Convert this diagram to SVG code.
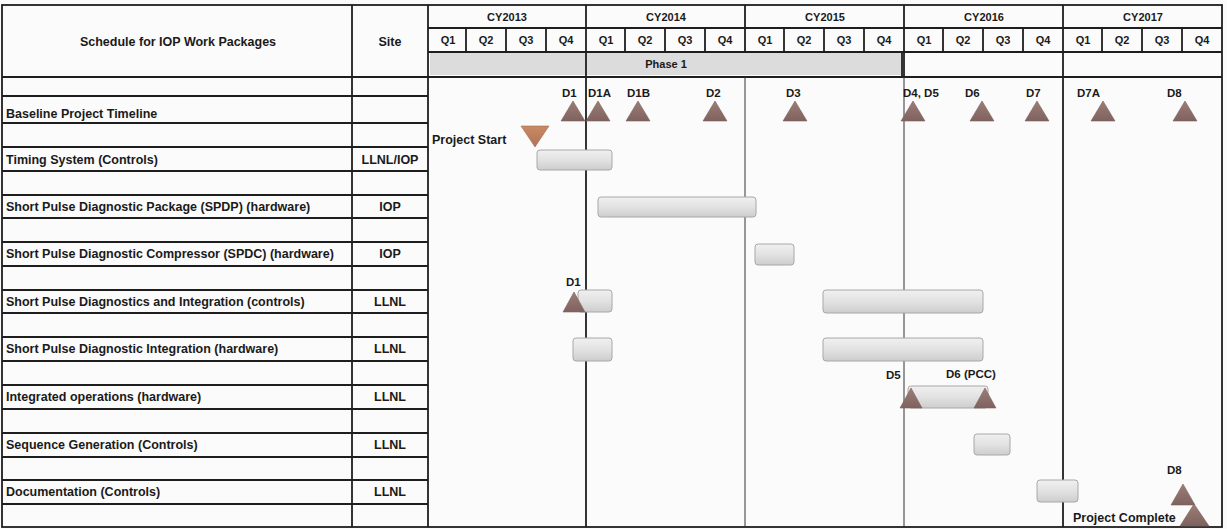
<svg xmlns="http://www.w3.org/2000/svg" width="1227" height="529" viewBox="0 0 1227 529">
<defs>
<style>
text{font-family:"Liberation Sans",Arial,sans-serif;font-weight:bold;font-size:11px;fill:#1a1a1a}
.c{text-anchor:middle}
.lb{font-size:12.5px}
.ml{font-size:11.5px}
.g{stroke:#1e1e1e;stroke-width:1.8;fill:none}
.t{stroke:#333;stroke-width:1;fill:none}
.bar{fill:url(#bg);stroke:#a8a8a8;stroke-width:1}
.ms{fill:url(#mg);stroke:#7d6360;stroke-width:0.6}
</style>
<linearGradient id="bg" x1="0" y1="0" x2="0" y2="1">
<stop offset="0" stop-color="#f0f0f0"/><stop offset="0.5" stop-color="#e2e2e2"/><stop offset="1" stop-color="#cdcdcd"/>
</linearGradient>
<linearGradient id="mg" x1="0" y1="0" x2="0" y2="1">
<stop offset="0" stop-color="#9c7d77"/><stop offset="1" stop-color="#7f625e"/>
</linearGradient>
<linearGradient id="og" x1="0" y1="0" x2="0" y2="1">
<stop offset="0" stop-color="#c98a63"/><stop offset="1" stop-color="#b0735a"/>
</linearGradient>
</defs>
<rect width="1227" height="529" fill="#fbfbfb"/>

<g id="grid">
<rect x="430" y="52" width="472" height="23" fill="#dcdcdc"/>
<rect x="2" y="5" width="1220" height="522" class="g"/>
<line x1="352" y1="5" x2="352" y2="527" class="g"/>
<line x1="428" y1="5" x2="428" y2="527" class="g"/>
<line x1="428" y1="28" x2="1222" y2="28" class="g"/>
<line x1="428" y1="52" x2="1222" y2="52" class="g"/>
<line x1="2" y1="77" x2="1222" y2="77" class="g"/>
<line x1="586" y1="5" x2="586" y2="527" class="g"/>
<line x1="745" y1="5" x2="745" y2="52" class="g"/>
<line x1="745" y1="77" x2="745" y2="527" class="t"/>
<line x1="904" y1="5" x2="904" y2="77" class="g"/>
<line x1="904" y1="77" x2="904" y2="527" class="t"/>
<line x1="1063" y1="5" x2="1063" y2="527" class="g"/>
<g class="g">
<line x1="466" y1="28" x2="466" y2="52"/><line x1="506" y1="28" x2="506" y2="52"/><line x1="546" y1="28" x2="546" y2="52"/>
<line x1="625" y1="28" x2="625" y2="52"/><line x1="665" y1="28" x2="665" y2="52"/><line x1="705" y1="28" x2="705" y2="52"/>
<line x1="784" y1="28" x2="784" y2="52"/><line x1="824" y1="28" x2="824" y2="52"/><line x1="864" y1="28" x2="864" y2="52"/>
<line x1="943" y1="28" x2="943" y2="52"/><line x1="983" y1="28" x2="983" y2="52"/><line x1="1023" y1="28" x2="1023" y2="52"/>
<line x1="1102" y1="28" x2="1102" y2="52"/><line x1="1142" y1="28" x2="1142" y2="52"/><line x1="1182" y1="28" x2="1182" y2="52"/>
<line x1="902" y1="52" x2="902" y2="77"/>
</g>
<g class="g">
<line x1="2" y1="96" x2="428" y2="96"/><line x1="2" y1="123" x2="428" y2="123"/><line x1="2" y1="147" x2="428" y2="147"/>
<line x1="2" y1="171" x2="428" y2="171"/><line x1="2" y1="195" x2="428" y2="195"/><line x1="2" y1="218" x2="428" y2="218"/>
<line x1="2" y1="242" x2="428" y2="242"/><line x1="2" y1="266" x2="428" y2="266"/><line x1="2" y1="290" x2="428" y2="290"/>
<line x1="2" y1="313" x2="428" y2="313"/><line x1="2" y1="337" x2="428" y2="337"/><line x1="2" y1="361" x2="428" y2="361"/>
<line x1="2" y1="385" x2="428" y2="385"/><line x1="2" y1="409" x2="428" y2="409"/><line x1="2" y1="433" x2="428" y2="433"/>
<line x1="2" y1="457" x2="428" y2="457"/><line x1="2" y1="480" x2="428" y2="480"/><line x1="2" y1="504" x2="428" y2="504"/>
</g>
</g>

<g id="header">
<text x="178" y="46" class="c lb">Schedule for IOP Work Packages</text>
<text x="390" y="46" class="c lb">Site</text>
<text x="507" y="21" class="c">CY2013</text>
<text x="666" y="21" class="c">CY2014</text>
<text x="825" y="21" class="c">CY2015</text>
<text x="984" y="21" class="c">CY2016</text>
<text x="1143" y="21" class="c">CY2017</text>
<text x="448" y="44" class="c">Q1</text><text x="486" y="44" class="c">Q2</text><text x="526" y="44" class="c">Q3</text><text x="566" y="44" class="c">Q4</text>
<text x="606" y="44" class="c">Q1</text><text x="645" y="44" class="c">Q2</text><text x="685" y="44" class="c">Q3</text><text x="725" y="44" class="c">Q4</text>
<text x="765" y="44" class="c">Q1</text><text x="804" y="44" class="c">Q2</text><text x="844" y="44" class="c">Q3</text><text x="884" y="44" class="c">Q4</text>
<text x="924" y="44" class="c">Q1</text><text x="963" y="44" class="c">Q2</text><text x="1003" y="44" class="c">Q3</text><text x="1043" y="44" class="c">Q4</text>
<text x="1083" y="44" class="c">Q1</text><text x="1122" y="44" class="c">Q2</text><text x="1162" y="44" class="c">Q3</text><text x="1202" y="44" class="c">Q4</text>
<text x="666" y="68" class="c">Phase 1</text>
</g>

<g id="row-baseline">
<text x="6" y="118" class="lb">Baseline Project Timeline</text>
<text x="562" y="97" class="ml">D1</text>
<text x="588" y="97" class="ml">D1A</text>
<text x="627" y="97" class="ml">D1B</text>
<text x="706" y="97" class="ml">D2</text>
<text x="786" y="97" class="ml">D3</text>
<text x="903" y="97" class="ml">D4, D5</text>
<text x="965" y="97" class="ml">D6</text>
<text x="1026" y="97" class="ml">D7</text>
<text x="1077" y="97" class="ml">D7A</text>
<text x="1167" y="97" class="ml">D8</text>
<polygon class="ms" points="573,101 561,121 585,121"/>
<polygon class="ms" points="598,101 586,121 610,121"/>
<polygon class="ms" points="638,101 626,121 650,121"/>
<polygon class="ms" points="715,101 703,121 727,121"/>
<polygon class="ms" points="795,101 783,121 807,121"/>
<polygon class="ms" points="913,101 901,121 925,121"/>
<polygon class="ms" points="982,101 970,121 994,121"/>
<polygon class="ms" points="1037,101 1025,121 1049,121"/>
<polygon class="ms" points="1103,101 1091,121 1115,121"/>
<polygon class="ms" points="1185,101 1173,121 1197,121"/>
<text x="432" y="144" class="lb">Project Start</text>
<polygon points="521,126 549,126 535,147" fill="url(#og)" stroke="#a0705a" stroke-width="0.6"/>
</g>

<g id="row-timing">
<text x="6" y="164" class="lb">Timing System (Controls)</text>
<text x="390" y="164" class="c lb">LLNL/IOP</text>
<rect class="bar" x="537" y="150" width="75" height="20" rx="3"/>
</g>

<g id="row-spdp">
<text x="6" y="211" class="lb">Short Pulse Diagnostic Package (SPDP) (hardware)</text>
<text x="390" y="211" class="c lb">IOP</text>
<rect class="bar" x="598" y="197" width="158" height="20" rx="3"/>
</g>

<g id="row-spdc">
<text x="6" y="258" class="lb">Short Pulse Diagnostic Compressor (SPDC) (hardware)</text>
<text x="390" y="258" class="c lb">IOP</text>
<rect class="bar" x="755" y="244" width="39" height="21" rx="3"/>
</g>

<g id="row-spdi-controls">
<text x="6" y="306" class="lb">Short Pulse Diagnostics and Integration (controls)</text>
<text x="390" y="306" class="c lb">LLNL</text>
<rect class="bar" x="578" y="290" width="34" height="22" rx="3"/>
<rect class="bar" x="823" y="290" width="160" height="23" rx="3"/>
<text x="566" y="286" class="ml">D1</text>
<polygon class="ms" points="574,292 563,312 585,312"/>
</g>

<g id="row-spdi-hardware">
<text x="6" y="353" class="lb">Short Pulse Diagnostic Integration (hardware)</text>
<text x="390" y="353" class="c lb">LLNL</text>
<rect class="bar" x="573" y="338" width="39" height="23" rx="3"/>
<rect class="bar" x="823" y="338" width="160" height="23" rx="3"/>
</g>

<g id="row-integrated">
<text x="6" y="401" class="lb">Integrated operations (hardware)</text>
<text x="390" y="401" class="c lb">LLNL</text>
<text x="886" y="379" class="ml">D5</text>
<text x="946" y="378" class="ml">D6 (PCC)</text>
<rect class="bar" x="908" y="386" width="80" height="22" rx="3"/>
<polygon class="ms" points="911,388 900,408 922,408"/>
<polygon class="ms" points="985,388 974,408 996,408"/>
</g>

<g id="row-sequence">
<text x="6" y="449" class="lb">Sequence Generation (Controls)</text>
<text x="390" y="449" class="c lb">LLNL</text>
<rect class="bar" x="974" y="434" width="36" height="21" rx="3"/>
</g>

<g id="row-documentation">
<text x="6" y="496" class="lb">Documentation (Controls)</text>
<text x="390" y="496" class="c lb">LLNL</text>
<rect class="bar" x="1037" y="480" width="41" height="22" rx="3"/>
<text x="1167" y="474" class="ml">D8</text>
<polygon class="ms" points="1183,484 1171,505 1195,505"/>
<text x="1073" y="522" class="lb">Project Complete</text>
<polygon class="ms" points="1194,504 1180,526 1209,526"/>
</g>
</svg>
